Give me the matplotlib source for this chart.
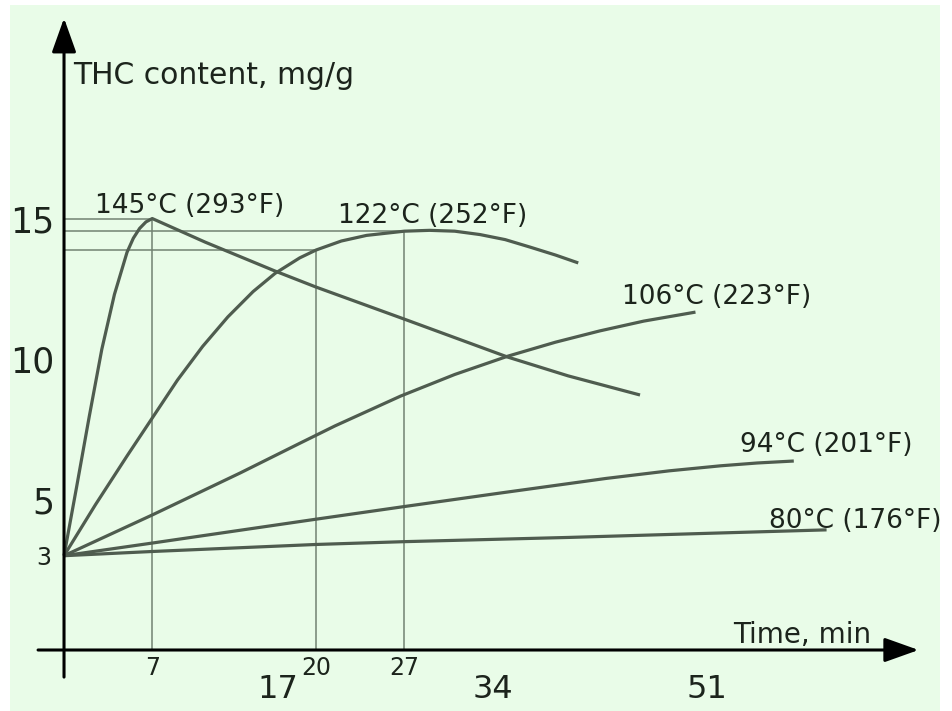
# THC content vs heating time for several temperatures (schematic chart)
import numpy as np
import matplotlib.pyplot as plt

# curves: time (min), THC content (mg/g)
t145 = [0, 1, 2, 3, 4, 5, 5.5, 6, 6.5, 7, 11.2, 16.75, 20, 27, 35.2, 40, 45.7]
c145 = [3, 5.45, 7.95, 10.35, 12.3, 13.8, 14.3, 14.65, 14.88, 15.0, 14.16, 13.13, 12.56, 11.42, 10.07, 9.4, 8.72]

t122 = [0, 2.5, 5, 7, 9, 11, 13, 15, 16.75, 18.7, 20, 22, 24, 27, 29, 31, 33, 35, 37, 39, 40.8]
c122 = [3, 4.82, 6.55, 7.9, 9.25, 10.45, 11.5, 12.4, 13.05, 13.6, 13.88, 14.2, 14.4, 14.55,
        14.58, 14.55, 14.43, 14.25, 13.98, 13.7, 13.42]

t106 = [0, 7, 14, 18.7, 21.5, 26.7, 31, 35.2, 39, 42.5, 46, 50.1]
c106 = [3, 4.45, 5.95, 7.0, 7.62, 8.68, 9.45, 10.1, 10.6, 11.0, 11.35, 11.67]

t94 = [0, 7, 20, 27, 34.6, 43, 48, 52.1, 55, 57.9]
c94 = [3, 3.45, 4.3, 4.75, 5.23, 5.75, 6.02, 6.2, 6.3, 6.37]

t80 = [0, 7, 20, 27, 40, 52.1, 60.5]
c80 = [3, 3.15, 3.4, 3.5, 3.65, 3.81, 3.92]

labels = ["145°C (293°F)", "122°C (252°F)", "106°C (223°F)", "94°C (201°F)", "80°C (176°F)"]
label_x = [2.46, 21.7, 44.3, 53.65, 55.9]
label_y = [15.2, 14.84, 11.96, 6.69, 3.99]

# marked points (dropped lines)
mark_t = [7, 20, 27]
mark_c = [15.0, 13.88, 14.55]

big_xticks = [17, 34, 51]
small_xticks = [7, 20, 27]
big_yticks = [5, 10, 15]
small_yticks = [3]

bg = '#e9fce8'
curve_col = '#4f5c4f'
guide_col = '#728272'
txt_col = '#1c241c'

fig = plt.figure(figsize=(9.53, 7.11), dpi=100, facecolor='white')
ax = fig.add_axes([10/953, 0, 930/953, 706/711])
ax.set_facecolor(bg)
ax.set_xlim(-4.286, 69.5)
ax.set_ylim(-2.527, 22.6)

y_axis = -0.356

# guide lines to the marked points
for t, c in zip(mark_t, mark_c):
    ax.plot([t, t], [y_axis, c], color=guide_col, lw=1.1, zorder=2)
    ax.plot([0, t], [c, c], color=guide_col, lw=1.1, zorder=2)

for t, c in [(t145, c145), (t122, c122), (t106, c106), (t94, c94), (t80, c80)]:
    ax.plot(t, c, color=curve_col, lw=2.3, solid_capstyle='butt', solid_joinstyle='round', zorder=3)

for s, x, y in zip(labels, label_x, label_y):
    ax.text(x, y, s, fontsize=19, color=txt_col, ha='left', va='baseline')

# axes drawn as arrows
arr = dict(arrowstyle='-|>,head_length=2.1,head_width=0.75', color='black', lw=2.2,
           shrinkA=0, shrinkB=0, mutation_scale=10)
ax.annotate('', xy=(0, 22.13), xytext=(0, -1.32), arrowprops=arr, zorder=4)
ax.annotate('', xy=(67.8, y_axis), xytext=(-2.06, y_axis), arrowprops=arr, zorder=4)

ax.text(0.71, 19.79, "THC content, mg/g", fontsize=21.5, color=txt_col, ha='left', va='baseline')
ax.text(53.1, -0.107, "Time, min", fontsize=20, color=txt_col, ha='left', va='baseline')

for sp in ax.spines.values():
    sp.set_visible(False)
ax.spines['bottom'].set_position(('data', y_axis))
ax.spines['left'].set_position(('data', 0))

ax.set_xticks(big_xticks)
ax.set_xticklabels([str(v) for v in big_xticks], fontsize=23, color=txt_col)
ax.set_xticks(small_xticks, minor=True)
ax.set_xticklabels([str(v) for v in small_xticks], minor=True, fontsize=17, color=txt_col)
ax.tick_params(axis='x', which='major', length=0, pad=17)
ax.tick_params(axis='x', which='minor', length=0, pad=4)

ax.set_yticks(big_yticks)
ax.set_yticklabels([str(v) for v in big_yticks], fontsize=25, color=txt_col)
ax.set_yticks(small_yticks, minor=True)
ax.set_yticklabels([str(v) for v in small_yticks], minor=True, fontsize=17, color=txt_col)
ax.tick_params(axis='y', which='major', length=0, pad=7)
ax.tick_params(axis='y', which='minor', length=0, pad=9)

fig.savefig('out.png', dpi=100, facecolor='white')
